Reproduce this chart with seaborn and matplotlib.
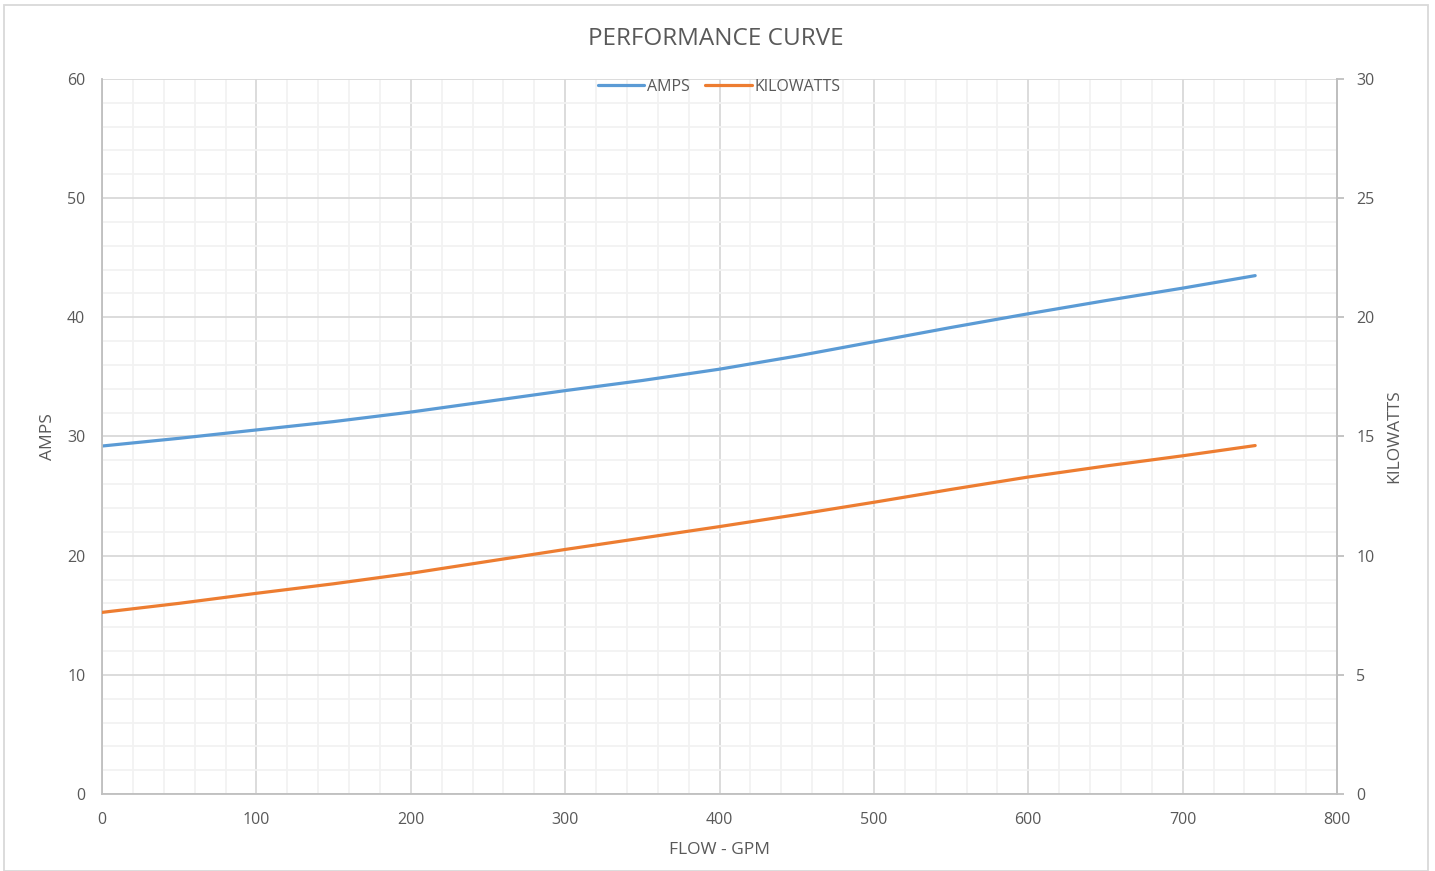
import matplotlib
matplotlib.use("Agg")
import matplotlib.pyplot as plt
from matplotlib.patches import Rectangle
from matplotlib.ticker import MultipleLocator
import seaborn as sns

# Values
flow_gpm = [0, 50, 100, 150, 200, 250, 300, 350, 400, 450, 500, 550, 600, 650, 700, 747]
amps = [29.2, 29.85, 30.55, 31.25, 32.05, 32.95, 33.85, 34.7, 35.65, 36.75,
        37.95, 39.15, 40.3, 41.4, 42.45, 43.5]
kilowatts = [7.62, 8.0, 8.42, 8.82, 9.26, 9.76, 10.26, 10.74, 11.22, 11.72,
             12.24, 12.78, 13.3, 13.76, 14.19, 14.62]

BLUE = "#5B9BD5"
ORANGE = "#ED7D31"
TEXT = "#595959"
MAJOR = "#d9d9d9"
MINOR = "#f2f2f2"
SPINE = "#bfbfbf"

sns.set_theme(style="white")
plt.rcParams["font.family"] = ["Open Sans", "DejaVu Sans"]

fig = plt.figure(figsize=(14.35, 8.71), dpi=100)
W, H = 1435, 871
ax = fig.add_axes([102 / W, (H - 794) / H, (1337 - 102) / W, (794 - 79) / H])
ax2 = ax.twinx()

sns.lineplot(x=flow_gpm, y=amps, ax=ax, color=BLUE, linewidth=2.3, label="AMPS", legend=False)
sns.lineplot(x=flow_gpm, y=kilowatts, ax=ax2, color=ORANGE, linewidth=2.3, label="KILOWATTS", legend=False)

ax.set_xlim(0, 800)
ax.set_ylim(0, 60)
ax2.set_ylim(0, 30)
ax.xaxis.set_major_locator(MultipleLocator(100))
ax.xaxis.set_minor_locator(MultipleLocator(20))
ax.yaxis.set_major_locator(MultipleLocator(10))
ax.yaxis.set_minor_locator(MultipleLocator(2))
ax2.yaxis.set_major_locator(MultipleLocator(5))

ax.grid(which="major", color=MAJOR, linewidth=1.3)
ax.grid(which="minor", color=MINOR, linewidth=1.3)
ax.set_axisbelow(True)
ax2.grid(False)

for a in (ax, ax2):
    for side, sp in a.spines.items():
        sp.set_color(SPINE)
        sp.set_linewidth(1.3)
    a.spines["top"].set_visible(False)
ax2.spines["left"].set_visible(False)
ax2.spines["bottom"].set_visible(False)

ax.tick_params(axis="both", which="both", length=0, labelsize=11.5, labelcolor=TEXT)
ax.tick_params(axis="y", pad=12)
ax.tick_params(axis="x", pad=13)
ax2.tick_params(axis="y", which="major", length=5, width=1.3, color=SPINE,
                labelsize=11.5, labelcolor=TEXT, pad=9, right=True)
ax2.tick_params(axis="y", which="minor", length=0)

ax.set_xlabel("FLOW - GPM", fontsize=12.5, color=TEXT, labelpad=10)
ax.set_ylabel("AMPS", fontsize=12.5, color=TEXT, labelpad=8)
ax2.set_ylabel("KILOWATTS", fontsize=12.5, color=TEXT, labelpad=8)

fig.text(716 / W, 1 - 39 / H, "PERFORMANCE CURVE", ha="center", va="center",
         fontsize=17.5, color=TEXT)

handles = ax.get_lines() + ax2.get_lines()
leg = ax.legend(handles, ["AMPS", "KILOWATTS"], loc="center",
                bbox_to_anchor=((719 - 102) / (1337 - 102), 1 - (87 - 79) / (794 - 79)),
                ncol=2, frameon=False, fontsize=11.5, handlelength=2.9,
                handletextpad=0.15, columnspacing=1.0, borderpad=0)
for t in leg.get_texts():
    t.set_color(TEXT)

fig.patches.append(Rectangle((4 / W, 0), (1428 - 4) / W, 1 - 5 / H,
                             transform=fig.transFigure, fill=False,
                             edgecolor=MAJOR, linewidth=1.3, clip_on=False))

fig.savefig("out.png", dpi=100)
